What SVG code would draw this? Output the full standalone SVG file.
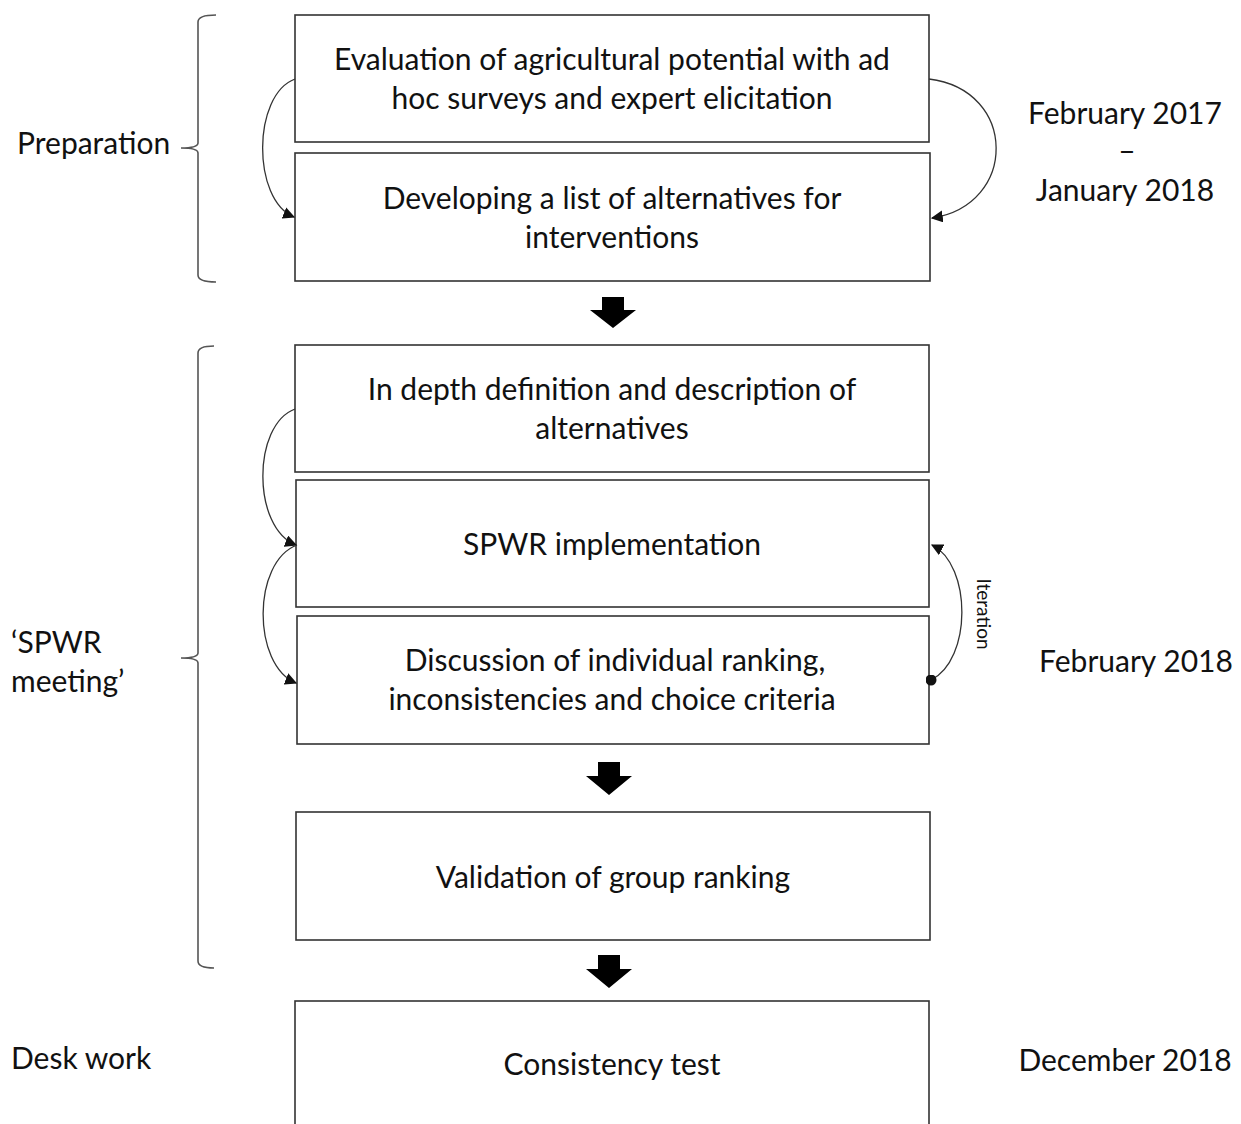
<svg xmlns="http://www.w3.org/2000/svg" width="1241" height="1124" viewBox="0 0 1241 1124">
  <style>
    text { font-family: Lato, "Open Sans", "Liberation Sans", sans-serif; font-size: 30px; fill: #111; }
    .c { text-anchor: middle; }
    .box { fill: #fff; stroke: #333; stroke-width: 1.6; }
    .brace { fill: none; stroke: #555; stroke-width: 1.6; }
    .curve { fill: none; stroke: #333; stroke-width: 1.3; }
    .fat { fill: #000; }
    .small { font-size: 19px; }
  </style>
  <defs>
    <marker id="head" viewBox="0 0 10 10" refX="9" refY="5" markerWidth="12" markerHeight="12" markerUnits="userSpaceOnUse" orient="auto">
      <path d="M0,0 L10,5 L0,10 z" fill="#111"/>
    </marker>
    <marker id="dot" viewBox="0 0 10 10" refX="5" refY="5" markerWidth="11" markerHeight="11" markerUnits="userSpaceOnUse">
      <circle cx="5" cy="5" r="5" fill="#111"/>
    </marker>
  </defs>

  <rect width="1241" height="1124" fill="#fff"/>

  <!-- phase braces and labels -->
  <g id="phase-preparation">
    <path class="brace" d="M216,15 Q198,15 198,22 L198,143 Q198,148 181,148 Q198,148 198,153 L198,275 Q198,282 216,282"/>
    <text x="17" y="154">Preparation</text>
  </g>
  <g id="phase-meeting">
    <path class="brace" d="M214,346 Q198,346 198,353 L198,653 Q198,658 181,658 Q198,658 198,663 L198,961 Q198,968 214,968"/>
    <text x="11" y="653">‘SPWR</text>
    <text x="11" y="692">meeting’</text>
  </g>
  <g id="phase-desk">
    <text x="11" y="1069">Desk work</text>
  </g>

  <!-- dates -->
  <g id="dates">
    <text class="c" x="1125" y="124">February 2017</text>
    <text class="c" x="1127" y="161">–</text>
    <text class="c" x="1125" y="201">January 2018</text>
    <text class="c" x="1136" y="672">February 2018</text>
    <text class="c" x="1125" y="1071">December 2018</text>
  </g>

  <!-- process steps -->
  <g id="step-evaluation">
    <rect class="box" x="295" y="15" width="634" height="127"/>
    <text class="c" x="612" y="70">Evaluation of agricultural potential with ad</text>
    <text class="c" x="612" y="109">hoc surveys and expert elicitation</text>
  </g>
  <g id="step-alternatives">
    <rect class="box" x="295" y="153" width="635" height="128"/>
    <text class="c" x="612" y="209">Developing a list of alternatives for</text>
    <text class="c" x="612" y="248">interventions</text>
  </g>
  <g id="step-definition">
    <rect class="box" x="295" y="345" width="634" height="127"/>
    <text class="c" x="612" y="400">In depth definition and description of</text>
    <text class="c" x="612" y="439">alternatives</text>
  </g>
  <g id="step-implementation">
    <rect class="box" x="296" y="480" width="633" height="127"/>
    <text class="c" x="612" y="555">SPWR implementation</text>
  </g>
  <g id="step-discussion">
    <rect class="box" x="297" y="616" width="632" height="128"/>
    <text class="c" x="615" y="671">Discussion of individual ranking,</text>
    <text class="c" x="612" y="710">inconsistencies  and choice criteria</text>
  </g>
  <g id="step-validation">
    <rect class="box" x="296" y="812" width="634" height="128"/>
    <text class="c" x="613" y="888">Validation of group ranking</text>
  </g>
  <g id="step-consistency">
    <rect class="box" x="295" y="1001" width="634" height="130"/>
    <text class="c" x="612" y="1075">Consistency test</text>
  </g>

  <!-- connectors -->
  <g id="connectors">
    <path class="curve" d="M295,79 C252,95 252,200 294,217" marker-end="url(#head)"/>
    <path class="curve" d="M929,79 C1018,90 1018,205 932,218" marker-end="url(#head)"/>
    <path class="curve" d="M295,409 C252,425 252,528 296,545" marker-end="url(#head)"/>
    <path class="curve" d="M297,545 C252,562 252,665 296,683" marker-end="url(#head)"/>
    <path class="curve" d="M931,680 C972,660 972,565 932,545" marker-start="url(#dot)" marker-end="url(#head)"/>
    <text class="small c" transform="translate(977,614) rotate(90)">Iteration</text>
    <path class="fat" d="M602,297 L624,297 L624,310 L636,310 L613,328 L590,310 L602,310 z"/>
    <path class="fat" d="M598,762 L620,762 L620,776 L632,776 L609,795 L586,776 L598,776 z"/>
    <path class="fat" d="M598,955 L620,955 L620,969 L632,969 L609,988 L586,969 L598,969 z"/>
  </g>
</svg>
